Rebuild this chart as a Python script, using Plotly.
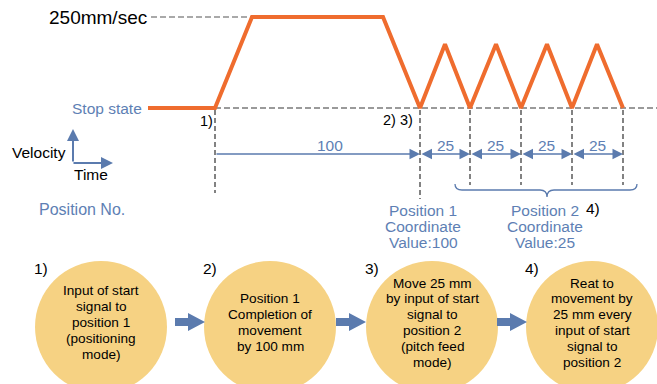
import plotly.graph_objects as go

# ---------------- data ----------------
time = [0, 67, 104, 235, 272, 297, 322, 348, 373, 399, 424, 449, 475]
velocity = [0, 0, 250, 250, 0, 175, 0, 175, 0, 175, 0, 175, 0]
max_speed_label = "250mm/sec"
stop_indices = [1, 4, 6, 8, 10, 12]          # points where the axis is at rest
position_moves = [100, 25, 25, 25, 25]        # mm moved between stops
step_labels = ["1)", "2)", "3)", "4)"]
step_texts = [
    ["Input of start", "signal to", "position 1", "(positioning", "mode)"],
    ["Position 1", "Completion of", "movement", "by 100 mm"],
    ["Move 25 mm", "by input of start", "signal to", "position 2", "(pitch feed", "mode)"],
    ["Reat to", "movement by", "25 mm every", "input of start", "signal to", "position 2"],
]

# ---------------- styles ----------------
W, H = 657, 384
ORANGE = "#EF6C2E"
BLUE = "#5E7FB4"
ARROW_BLUE = "#5B7BAE"
CIRCLE = "#F6D283"
FONT = "Liberation Sans, Arial, sans-serif"

fig = go.Figure()
fig.add_trace(go.Scatter(x=time, y=velocity, mode="lines",
                         line=dict(color=ORANGE, width=4), hoverinfo="skip",
                         showlegend=False))
# invisible trace to create the overlay pixel axes
fig.add_trace(go.Scatter(x=[None], y=[None], xaxis="x2", yaxis="y2",
                         showlegend=False, hoverinfo="skip"))

shapes = []
ann = []

def text(x, y, s, size=15, color="black", xanchor="center", xref="x2"):
    ann.append(dict(x=x, y=y, xref=xref, yref="y2", text=s, showarrow=False,
                    xanchor=xanchor, yanchor="middle",
                    font=dict(family=FONT, size=size, color=color)))

# dashed reference lines
shapes.append(dict(type="line", xref="x", yref="y", x0=time[1], x1=509, y0=0, y1=0,
                   line=dict(color="#7a7a7a", width=1.5, dash="6px,3px"), layer="below"))
shapes.append(dict(type="line", xref="x", yref="y", x0=3, x1=time[2],
                   y0=max(velocity), y1=max(velocity),
                   line=dict(color="#555555", width=1.2, dash="6px,3px"), layer="below"))

# vertical dashed lines at rest points
ends = [193, 199, 185, 185, 185, 185]
for idx, yend in zip(stop_indices, ends):
    shapes.append(dict(type="line", xref="x", yref="y2", x0=time[idx], x1=time[idx],
                       y0=110, y1=yend,
                       line=dict(color="#404040", width=1.3, dash="5px,3px"), layer="below"))

# dimension arrows
DIM_Y = 154
stops_t = [time[i] for i in stop_indices]
for k, mv in enumerate(position_moves):
    t0, t1 = stops_t[k], stops_t[k + 1]
    ann.append(dict(x=t1, y=DIM_Y, ax=t0, ay=DIM_Y, xref="x", yref="y2",
                    axref="x", ayref="y2", text="", showarrow=True,
                    arrowhead=2, arrowsize=1.4, arrowwidth=1.5, arrowcolor=ARROW_BLUE,
                    arrowside="end" if k == 0 else "end+start"))
    mid = (t0 + t1) / 2 + (12 if k == 0 else 0)
    ann.append(dict(x=mid, y=DIM_Y - 9, xref="x", yref="y2", text=str(mv),
                    showarrow=False, xanchor="center", yanchor="middle",
                    font=dict(family=FONT, size=15.5, color=BLUE)))

# brace
brace = ("M 455 184 Q 455 190 462 190 L 540 190 Q 547 190 547 197 "
         "Q 547 190 554 190 L 630 190 Q 637 190 637 184")
shapes.append(dict(type="path", xref="x2", yref="y2", path=brace,
                   line=dict(color=ARROW_BLUE, width=1.3)))

# velocity / time icon
ann.append(dict(x=73, y=129, ax=73, ay=163, xref="x2", yref="y2", axref="x2", ayref="y2",
                text="", showarrow=True, arrowhead=2, arrowsize=1.2, arrowwidth=2,
                arrowcolor=ARROW_BLUE))
ann.append(dict(x=113, y=163, ax=72, ay=163, xref="x2", yref="y2", axref="x2", ayref="y2",
                text="", showarrow=True, arrowhead=2, arrowsize=1.2, arrowwidth=2,
                arrowcolor=ARROW_BLUE))

# texts in the upper part
text(149, 17, max_speed_label, size=19, xanchor="right")
text(144, 108, "Stop state", size=15.5, color=BLUE, xanchor="right")
text(206, 121, "1)", size=14.5)
text(398, 120, "2) 3)", size=14.5)
text(68, 152, "Velocity", size=15.5, xanchor="right")
text(72, 174, "Time", size=15.5, xanchor="left")
text(82, 209, "Position No.", size=16, color=BLUE)
for i, s in enumerate(["Position 1", "Coordinate", "Value:" + str(position_moves[0])]):
    text(423, 210 + 16 * i, s, size=15.5, color=BLUE)
for i, s in enumerate(["Position 2", "Coordinate", "Value:" + str(position_moves[1])]):
    text(545, 210 + 16 * i, s, size=15.5, color=BLUE)
text(593, 208, "4)", size=15.5)

# circles, arrows and step texts
centers = [101, 270, 432, 592]
CY, R = 327, 66
for cx, lab, lines in zip(centers, step_labels, step_texts):
    shapes.append(dict(type="circle", xref="x2", yref="y2", x0=cx - R, x1=cx + R,
                       y0=CY - R, y1=CY + R, fillcolor=CIRCLE, line=dict(width=0),
                       layer="below"))
    n = len(lines)
    for j, s in enumerate(lines):
        text(cx, 322.5 + (j - (n - 1) / 2) * 15.8, s, size=13.6)
    text(cx - 60, 268, lab, size=15.5)

for x0 in [175, 336, 497]:
    p = (f"M {x0} 318 L {x0+13} 318 L {x0+13} 313 L {x0+30} 322 "
         f"L {x0+13} 331 L {x0+13} 326 L {x0} 326 Z")
    shapes.append(dict(type="path", xref="x2", yref="y2", path=p,
                       fillcolor=ARROW_BLUE, line=dict(width=0)))

fig.update_layout(
    width=W, height=H, margin=dict(l=0, r=0, t=0, b=0),
    paper_bgcolor="white", plot_bgcolor="white",
    xaxis=dict(range=[-148, 509], visible=False, fixedrange=True),
    yaxis=dict(range=[-758.24, 296.70], visible=False, fixedrange=True),
    xaxis2=dict(range=[0, W], visible=False, overlaying="x", fixedrange=True),
    yaxis2=dict(range=[H, 0], visible=False, overlaying="y", fixedrange=True),
    shapes=shapes, annotations=ann, showlegend=False,
)
fig.write_html("out.html", config={"displayModeBar": False},
               post_script="document.body.style.margin='0';document.body.style.overflow='hidden';")
